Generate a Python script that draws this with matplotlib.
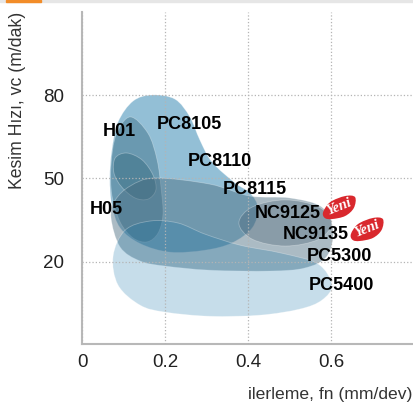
import matplotlib
matplotlib.use("Agg")
import numpy as np
import matplotlib.pyplot as plt
from matplotlib.patches import PathPatch, Rectangle
from matplotlib.path import Path

plt.rcParams['font.family'] = ['Liberation Sans', 'DejaVu Sans']

# Alanlarin sinirlari (ilerleme fn, kesim hizi vc)
PC81_FN = [.169, .224, .260, .284, .313, .369, .405, .424, .410, .361, .296, .212, .140, .092, .072, .067, .072, .087, .123]
PC81_VC = [80.0, 78.5, 72.1, 63.8, 55.9, 48.3, 44.7, 39.3, 32.1, 26.7, 24.1, 23.4, 26.5, 32.1, 40.3, 50.1, 60.1, 70.3, 77.8]

H_FN = [.116, .159, .181, .191, .195, .183, .157, .123, .092, .072, .070, .082]
H_VC = [72.1, 66.2, 56.6, 45.8, 36.8, 30.2, 27.1, 28.5, 34.2, 43.9, 54.8, 65.6]

H01_FN = [.108, .145, .171, .178, .159, .128, .096, .077, .080]
H01_VC = [59.1, 56.6, 51.2, 45.8, 42.5, 42.9, 46.8, 51.9, 57.3]

PC5300_FN = [.176, .308, .405, .501, .578, .605, .590, .537, .453, .308, .200, .140, .092, .070, .080, .116]
PC5300_VC = [50.1, 47.9, 43.6, 42.9, 39.6, 31.3, 21.9, 17.7, 16.6, 16.9, 18.4, 20.2, 25.2, 35.7, 42.1, 47.2]

PC5400_FN = [.104, .164, .231, .296, .381, .482, .569, .602, .578, .525, .429, .308, .200, .140, .087, .075]
PC5400_VC = [31.3, 34.6, 33.9, 29.9, 25.9, 23.0, 19.1, 11.5, 6.1, 2.9, .7, .3, 1.8, 4.3, 11.5, 22.0]

NC_FN = [.378, .411, .490, .570, .602, .570, .490, .411]
NC_VC = [33.9, 39.7, 42.2, 39.7, 33.9, 28.0, 25.6, 28.0]

YENI1_FN = [.581, .598, .634, .658, .655, .634, .602, .585]
YENI1_VC = [37.8, 41.4, 43.6, 43.2, 39.3, 36.4, 35.3, 35.7]
YENI2_FN = [.648, .665, .701, .725, .722, .701, .669, .652]
YENI2_VC = [29.9, 33.5, 35.7, 35.3, 31.4, 28.5, 27.4, 27.8]

ETIKETLER = ['H01', 'PC8105', 'PC8110', 'PC8115', 'NC9125', 'NC9135', 'PC5300', 'PC5400', 'H05']
ETIKET_FN = [.089, .258, .333, .417, .496, .564, .620, .624, .058]
ETIKET_VC = [67.0, 69.4, 56.2, 45.8, 37.3, 29.9, 22.0, 11.5, 38.9]

YENI_FN = [.619, .687]
YENI_VC = [39.6, 31.7]

X_TICKS = [0, .2, .4, .6]
X_LABELS = ['0', '0.2', '0.4', '0.6']
Y_TICKS = [20, 50, 80]


def alan(ax, fn, vc, renk, kenar=(1, 1, 1, .3), z=2):
    """Noktalardan gecen kapali yumusak egri cizer"""
    p = np.column_stack([fn, vc])
    n = len(p)
    verts = [p[0]]
    codes = [Path.MOVETO]
    for i in range(n):
        p0, p1, p2, p3 = p[i - 1], p[i], p[(i + 1) % n], p[(i + 2) % n]
        verts += [p1 + (p2 - p0) / 6, p2 - (p3 - p1) / 6, p2]
        codes += [Path.CURVE4] * 3
    ax.add_patch(PathPatch(Path(verts, codes), facecolor=renk, edgecolor=kenar, lw=.6, zorder=z))


fig = plt.figure(figsize=(4.13, 4.05), dpi=100)
ax = fig.add_axes([82 / 413, 1 - 344 / 405, 331 / 413, 332 / 405])

alan(ax, PC81_FN, PC81_VC, '#93bfd6')
alan(ax, H_FN, H_VC, (45 / 255, 98 / 255, 120 / 255, .4))
alan(ax, H01_FN, H01_VC, (45 / 255, 98 / 255, 120 / 255, .4))
alan(ax, PC5300_FN, PC5300_VC, (70 / 255, 105 / 255, 125 / 255, .45))
alan(ax, NC_FN, NC_VC, (60 / 255, 85 / 255, 105 / 255, .3))
alan(ax, PC5400_FN, PC5400_VC, (10 / 255, 110 / 255, 165 / 255, .23))

ax.set_xlim(0, .7976)
ax.set_ylim(-9.7, 109.9)
ax.set_xticks(X_TICKS)
ax.set_xticklabels(X_LABELS)
ax.set_yticks(Y_TICKS)
ax.tick_params(length=0, labelsize=13.5, colors='#222222')
ax.tick_params(axis='y', pad=13)
ax.tick_params(axis='x', pad=7)
ax.grid(True, color='#b4b4b4', linestyle=':', linewidth=.9, zorder=3)
ax.set_axisbelow(False)
for lado in ['top', 'right']:
    ax.spines[lado].set_visible(False)
for lado in ['left', 'bottom']:
    ax.spines[lado].set_color('#b8b8b8')
    ax.spines[lado].set_linewidth(1.5)

alan(ax, YENI1_FN, YENI1_VC, '#d9282d', kenar='none', z=5)
alan(ax, YENI2_FN, YENI2_VC, '#d9282d', kenar='none', z=5)
for x, y in zip(YENI_FN, YENI_VC):
    ax.text(x, y, 'Yeni', color='white', fontsize=10.5, fontstyle='italic', fontweight='bold',
            family='Liberation Serif', rotation=22, ha='center', va='center', zorder=6)

for nome, x, y in zip(ETIKETLER, ETIKET_FN, ETIKET_VC):
    ax.text(x, y, nome, color='black', fontsize=13, fontweight='bold', ha='center', va='center', zorder=7)

fig.text(18 / 413, 1 - 100 / 405, 'Kesim Hızı, vc (m/dak)', rotation=90, ha='center', va='center',
         fontsize=12.7, color='#333333')
fig.text(413 / 413, 1 - 394 / 405, 'ilerleme, fn (mm/dev)', ha='right', va='center',
         fontsize=12.6, color='#333333')

# faixa do topo
fig.add_artist(Rectangle((0, 1 - 1.5 / 405), 1, 1.5 / 405, transform=fig.transFigure, color='#e6e6e6'))
fig.add_artist(Rectangle((6 / 413, 1 - 1.5 / 405), 35 / 413, 1.5 / 405, transform=fig.transFigure, color='#f28c28'))

fig.savefig('out.png', dpi=100)
